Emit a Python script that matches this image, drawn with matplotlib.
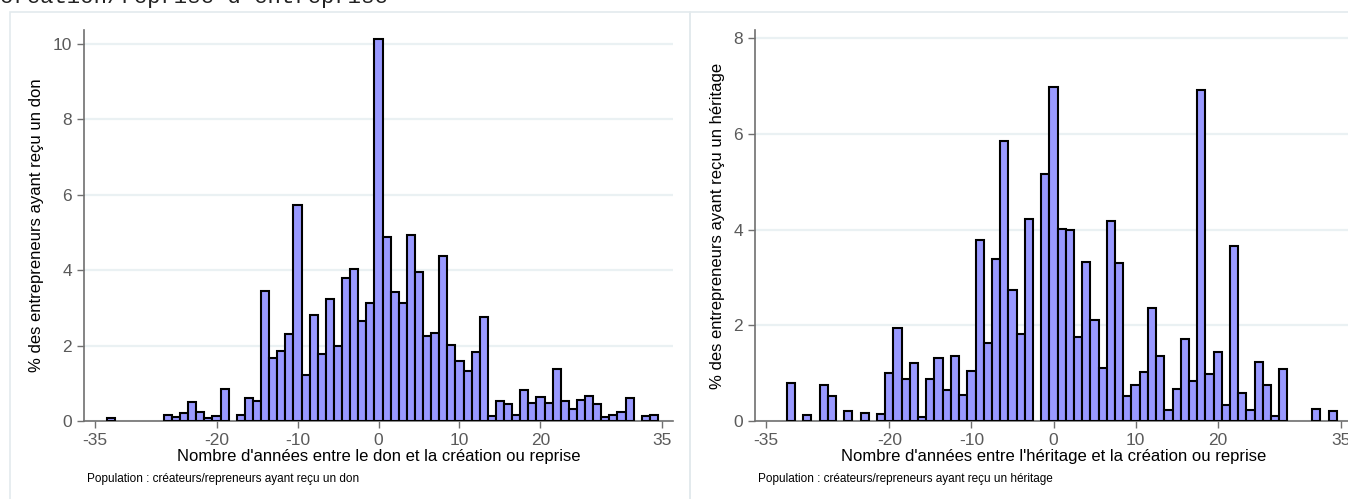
import matplotlib
matplotlib.use("Agg")
import matplotlib.pyplot as plt
from matplotlib.patches import Rectangle

plt.rcParams['font.family'] = ['Liberation Sans', 'DejaVu Sans']
plt.rcParams['axes.unicode_minus'] = False

# écart (en années) entre le don / l'héritage et la création ou reprise
annees_don = [-33, -26, -25, -24, -23, -22, -21, -20, -19, -17, -16, -15, -14, -13,
              -12, -11, -10, -9, -8, -7, -6, -5, -4, -3, -2, -1, 0, 1, 2, 3, 4, 5,
              6, 7, 8, 9, 10, 11, 12, 13, 14, 15, 16, 17, 18, 19, 20, 21, 22, 23,
              24, 25, 26, 27, 28, 29, 30, 31, 33, 34]
pct_don = [0.08, 0.16, 0.11, 0.20, 0.50, 0.25, 0.08, 0.13, 0.85, 0.16, 0.61, 0.53,
           3.45, 1.68, 1.85, 2.30, 5.74, 1.23, 2.80, 1.77, 3.24, 1.99, 3.79, 4.04,
           2.65, 3.12, 10.12, 4.88, 3.42, 3.13, 4.92, 3.96, 2.26, 2.33, 4.37, 2.02,
           1.59, 1.33, 1.82, 2.76, 0.13, 0.53, 0.46, 0.16, 0.82, 0.49, 0.64, 0.49,
           1.38, 0.53, 0.32, 0.56, 0.65, 0.44, 0.11, 0.16, 0.25, 0.61, 0.13, 0.16]

annees_her = [-32, -30, -28, -27, -25, -23, -21, -20, -19, -18, -17, -16, -15, -14,
              -13, -12, -11, -10, -9, -8, -7, -6, -5, -4, -3, -1, 0, 1, 2, 3, 4, 5,
              6, 7, 8, 9, 10, 11, 12, 13, 14, 15, 16, 17, 18, 19, 20, 21, 22, 23,
              24, 25, 26, 27, 28, 32, 34]
pct_her = [0.79, 0.12, 0.76, 0.52, 0.21, 0.17, 0.15, 1.00, 1.94, 0.87, 1.21, 0.08,
           0.87, 1.32, 0.64, 1.36, 0.55, 1.04, 3.79, 1.63, 3.39, 5.86, 2.73, 1.81,
           4.22, 5.17, 6.97, 4.02, 4.00, 1.76, 3.32, 2.10, 1.11, 4.17, 3.30, 0.52,
           0.76, 1.02, 2.36, 1.36, 0.22, 0.67, 1.72, 0.84, 6.92, 0.99, 1.44, 0.33,
           3.65, 0.59, 0.24, 1.23, 0.76, 0.10, 1.09, 0.25, 0.21]

xticks = [-35, -20, -10, 0, 10, 20, 35]

W, H = 1348, 499
fig = plt.figure(figsize=(W / 100, H / 100), dpi=100)

# cadres des deux graphiques
box_col = '#e3eaed'
fig.add_artist(Rectangle((10 / W, -0.05), 680 / W, 1 - 12 / H + 0.05,
                         transform=fig.transFigure, fill=False,
                         edgecolor=box_col, lw=1.2))
fig.add_artist(Rectangle((690 / W, -0.05), 700 / W, 1 - 12 / H + 0.05,
                         transform=fig.transFigure, fill=False,
                         edgecolor=box_col, lw=1.2))

# titre (coupé par le bord haut)
fig.text(0.0, 1 - 3 / H, "création/reprise d'entreprise", family='Liberation Mono',
         fontsize=16, va='baseline', ha='left', color='#222222')


def panneau(left_px, right_px, annees, pct, ylim, yticks, ylab, xlab, note):
    ax = fig.add_axes([left_px / W, (H - 421) / H, (right_px - left_px) / W, 391 / H])
    ax.bar(annees, pct, width=1.0, color='#9999ff', edgecolor='black',
           linewidth=1.5, zorder=3)
    ax.set_xlim(-36.36, 36.36)
    ax.set_ylim(0, ylim)
    ax.set_xticks(xticks)
    ax.set_yticks(yticks)
    ax.grid(axis='y', color='#eaf1f3', lw=1.6, zorder=0)
    for s in ['top', 'right']:
        ax.spines[s].set_visible(False)
    for s in ['left', 'bottom']:
        ax.spines[s].set_color('#707070')
        ax.spines[s].set_linewidth(1.2)
    ax.tick_params(colors='#707070', labelcolor='#5a5a5a', labelsize=12.5,
                   length=5, width=1.0)
    ax.set_ylabel(ylab, fontsize=12, color='black', labelpad=6)
    ax.set_xlabel(xlab, fontsize=12, color='black', labelpad=1)
    fig.text((left_px + 3) / W, 1 - 479 / H, note, fontsize=8.5, va='center',
             ha='left', color='black')
    return ax


panneau(84, 673, annees_don, pct_don, 10.37, [0, 2, 4, 6, 8, 10],
        "% des entrepreneurs ayant reçu un don",
        "Nombre d'années entre le don et la création ou reprise",
        "Population : créateurs/repreneurs ayant reçu un don")
panneau(755, 1352, annees_her, pct_her, 8.17, [0, 2, 4, 6, 8],
        "% des entrepreneurs ayant reçu un héritage",
        "Nombre d'années entre l'héritage et la création ou reprise",
        "Population : créateurs/repreneurs ayant reçu un héritage")

fig.savefig('out.png', dpi=100)
